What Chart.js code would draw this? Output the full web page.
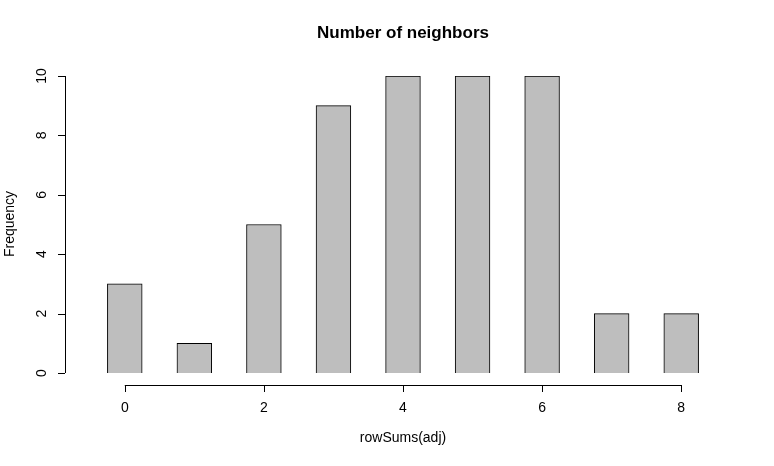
<!DOCTYPE html>
<html><head><script src="https://cdn.jsdelivr.net/npm/chart.js@4"></script>
<style>html,body{margin:0;background:#fff}#w{width:774px;height:466px}</style></head>
<body><div id="w"><canvas id="c"></canvas></div>
<script>
const binCenters=[0,1,2,3,4,5,6,7,8];
const counts=[3,1,5,9,10,10,10,2,2];
const xTicks=[0,2,4,6,8];
const yTicks=[0,2,4,6,8,10];
const FONT='"Liberation Sans", Arial, sans-serif';
const axes={id:'axes',afterDraw(ch){
 const c=ch.ctx,x=ch.scales.x,y=ch.scales.y;
 c.save();c.strokeStyle='#000';c.fillStyle='#000';c.lineWidth=1;
 const ay=385,ax=65;
 c.beginPath();c.moveTo(x.getPixelForValue(0),ay+.5);c.lineTo(x.getPixelForValue(8),ay+.5);
 xTicks.forEach(t=>{const p=Math.round(x.getPixelForValue(t))+.5;c.moveTo(p,ay);c.lineTo(p,ay+7);});
 c.moveTo(ax+.5,y.getPixelForValue(0));c.lineTo(ax+.5,y.getPixelForValue(10));
 yTicks.forEach(t=>{const p=Math.round(y.getPixelForValue(t))+.5;c.moveTo(ax,p);c.lineTo(ax-7,p);});
 c.stroke();
 c.font='14px '+FONT;c.textAlign='center';c.textBaseline='middle';
 xTicks.forEach(t=>c.fillText(String(t),x.getPixelForValue(t),408));
 yTicks.forEach(t=>{c.save();c.translate(42,y.getPixelForValue(t));c.rotate(-Math.PI/2);c.fillText(String(t),0,0);c.restore();});
 c.fillText('rowSums(adj)',403,438);
 c.save();c.translate(10,224);c.rotate(-Math.PI/2);c.fillText('Frequency',0,0);c.restore();
 c.font='bold 17px '+FONT;c.fillText('Number of neighbors',403,33);
 c.restore();}};
new Chart(document.getElementById('c'),{type:'bar',
 data:{datasets:[{data:binCenters.map((v,i)=>({x:v,y:counts[i]})),backgroundColor:'#bebebe',borderColor:'#000',borderWidth:1,barPercentage:1,categoryPercentage:1}]},
 options:{responsive:true,maintainAspectRatio:false,animation:false,
  layout:{padding:{left:90,right:58,top:76,bottom:93}},
  plugins:{legend:{display:false},tooltip:{enabled:false}},
  scales:{x:{type:'linear',min:-0.5,max:8.5,display:false,offset:false},y:{min:0,max:10,display:false}}},
 plugins:[axes]});
</script></body></html>
